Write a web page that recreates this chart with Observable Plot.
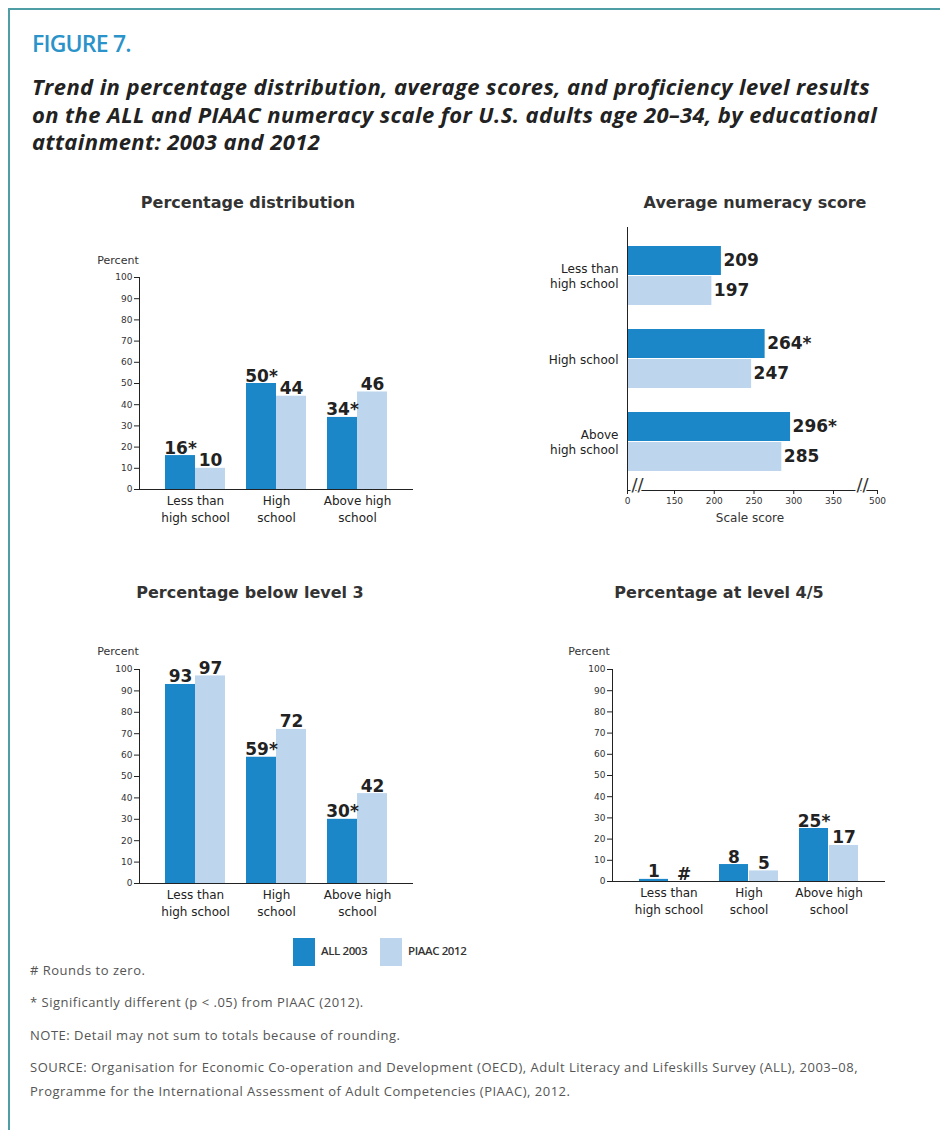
<!DOCTYPE html>
<html><head><meta charset="utf-8">
<script src="https://cdn.jsdelivr.net/npm/d3@7"></script>
<script src="https://cdn.jsdelivr.net/npm/@observablehq/plot@0.6"></script>
<style>
body{margin:0;background:#fff;}
#page{position:relative;width:940px;height:1130px;overflow:hidden;font-family:"DejaVu Sans",sans-serif;color:#222;}
#border{position:absolute;left:8px;top:8px;width:1000px;height:1200px;border-left:2px solid #4f9ea6;border-top:2px solid #4f9ea6;}
.abs{position:absolute;}
#fig{left:32px;top:27px;font-family:"Open Sans",sans-serif;font-weight:600;font-size:23px;color:#2a93c9;letter-spacing:-0.8px;}
#sub{left:32px;top:73px;font-family:"Open Sans",sans-serif;font-weight:bold;font-style:italic;font-size:22px;line-height:27.5px;color:#222;white-space:nowrap;letter-spacing:0.4px;}
.ptitle{font-weight:bold;font-size:16px;color:#333;white-space:nowrap;transform:translateX(-50%);}
.pct{font-size:11px;color:#333;white-space:nowrap;transform:translateX(-50%);}
.leg{font-family:"Open Sans",sans-serif;font-weight:600;font-size:11.5px;color:#333;letter-spacing:-0.4px;}
.sw{width:22px;height:28px;}
.fn{left:30px;font-family:"Open Sans",sans-serif;font-size:13px;color:#555;letter-spacing:0.5px;white-space:nowrap;}
</style></head>
<body><div id="page"><div id="border"></div>
<div id="fig" class="abs">FIGURE 7.</div>
<div id="sub" class="abs">Trend in percentage distribution, average scores, and proficiency level results<br>on the ALL and PIAAC numeracy scale for U.S. adults age 20–34, by educational<br>attainment: 2003 and 2012</div>
</div>
<script>
// ---- data ----
const categories = ["Less than high school", "High school", "Above high school"];
const vTickLabels = ["Less than\nhigh school", "High\nschool", "Above high\nschool"];
const hTickLabels = ["Less than\nhigh school", "High school", "Above\nhigh school"];
const seriesNames = ["ALL 2003", "PIAAC 2012"];

const distAll2003 = [16, 50, 34];
const distPiaac2012 = [10, 44, 46];
const distLabels2003 = ["16*", "50*", "34*"];
const distLabels2012 = ["10", "44", "46"];

const scoreAll2003 = [209, 264, 296];
const scorePiaac2012 = [197, 247, 285];
const scoreLabels2003 = ["209", "264*", "296*"];
const scoreLabels2012 = ["197", "247", "285"];

const below3All2003 = [93, 59, 30];
const below3Piaac2012 = [97, 72, 42];
const below3Labels2003 = ["93", "59*", "30*"];
const below3Labels2012 = ["97", "72", "42"];

const lvl45All2003 = [1, 8, 25];
const lvl45Piaac2012 = [0, 5, 17];
const lvl45Labels2003 = ["1", "8", "25*"];
const lvl45Labels2012 = ["#", "5", "17"];

const percentTicks = [0, 10, 20, 30, 40, 50, 60, 70, 80, 90, 100];
const scoreTicks = [0, 150, 200, 250, 300, 350, 500];
const scoreDomain = [0, 150, 350, 500];
const scoreBreaks = [32, 449];

const footnotes = [
  "# Rounds to zero.",
  "* Significantly different (p < .05) from PIAAC (2012).",
  "NOTE: Detail may not sum to totals because of rounding.",
  "SOURCE: Organisation for Economic Co-operation and Development (OECD), Adult Literacy and Lifeskills Survey (ALL), 2003–08,\nProgramme for the International Assessment of Adult Competencies (PIAAC), 2012."
];

// ---- styles ----
const C2003 = "#1b87c8";
const C2012 = "#bdd6ee";
const FONT = "DejaVu Sans, sans-serif";
const page = document.getElementById("page");

function place(el, left, top) {
  const w = document.createElement("div");
  w.className = "abs";
  w.style.left = left + "px"; w.style.top = top + "px";
  w.appendChild(el); page.appendChild(w); return w;
}
function addText(cls, text, left, top) {
  const d = document.createElement("div");
  d.className = "abs " + cls; d.textContent = text;
  d.style.left = left + "px"; d.style.top = top + "px";
  page.appendChild(d); return d;
}
const rows = (a, b, la, lb) => categories.map((c, i) => ({c, a: a[i], b: b[i], la: la[i], lb: lb[i]}));

function vbar(a, b, la, lb, m) {
  const data = rows(a, b, la, lb);
  return Plot.plot({
    width: 470, height: 300,
    marginTop: m.t, marginBottom: m.b, marginLeft: m.l, marginRight: m.r,
    style: {background: "transparent", fontFamily: FONT, color: "#222", overflow: "visible"},
    x: {domain: categories, paddingInner: 0.259, paddingOuter: 0.32, label: null},
    y: {domain: [0, 100], label: null},
    marks: [
      Plot.barY(data, {x: "c", y: "a", fill: C2003, insetRight: 30}),
      Plot.barY(data, {x: "c", y: "b", fill: C2012, insetLeft: 30}),
      Plot.axisY({ticks: percentTicks, tickSize: 5, tickPadding: 2, fontSize: 9, label: null, fill: "#333"}),
      Plot.axisX({tickSize: 0, tickPadding: 4, fontSize: 12, lineHeight: 1.4, label: null,
        tickFormat: d => vTickLabels[categories.indexOf(d)]}),
      Plot.frame({anchor: "left", stroke: "#222"}),
      Plot.ruleY([0], {stroke: "#222", strokeWidth: 1.2}),
      Plot.text(data, {x: "c", y: "a", text: "la", dx: -15, dy: -2, lineAnchor: "bottom", fontSize: 17, fontWeight: "bold", fill: "#222"}),
      Plot.text(data, {x: "c", y: "b", text: "lb", dx: 15, dy: -2, lineAnchor: "bottom", fontSize: 17, fontWeight: "bold", fill: "#222"})
    ]
  });
}

function hbar(a, b, la, lb, m) {
  const data = rows(a, b, la, lb);
  return Plot.plot({
    width: 470, height: 320,
    marginTop: m.t, marginBottom: m.b, marginLeft: m.l, marginRight: m.r,
    style: {background: "transparent", fontFamily: FONT, color: "#222", overflow: "visible"},
    x: {type: "linear", domain: scoreDomain, range: [157, 204, 363, 407], label: null},
    y: {domain: categories, paddingInner: 0.286, paddingOuter: 0.214, label: null},
    marks: [
      Plot.barX(data, {y: "c", x: "a", fill: C2003, insetBottom: 30}),
      Plot.barX(data, {y: "c", x: "b", fill: C2012, insetTop: 30}),
      Plot.axisY({tickSize: 0, tickPadding: 9, fontSize: 12, lineHeight: 1.25, label: null,
        tickFormat: d => hTickLabels[categories.indexOf(d)]}),
      Plot.axisX({ticks: scoreTicks, tickSize: 4, tickPadding: 3, fontSize: 9, label: null, fill: "#333"}),
      Plot.frame({anchor: "left", stroke: "#222"}),
      Plot.frame({anchor: "bottom", stroke: "#222"}),
      Plot.text(scoreBreaks, {x: d => d, frameAnchor: "bottom", text: () => "//", fontSize: 18, fill: "#333",
        stroke: "white", strokeWidth: 3, paintOrder: "stroke"}),
      Plot.text(data, {x: "a", y: "c", text: "la", dx: 2, dy: -15, textAnchor: "start", fontSize: 17, fontWeight: "bold", fill: "#222"}),
      Plot.text(data, {x: "b", y: "c", text: "lb", dx: 2, dy: 15, textAnchor: "start", fontSize: 17, fontWeight: "bold", fill: "#222"})
    ]
  });
}

// panel 1
addText("ptitle", "Percentage distribution", 248, 193);
addText("pct", "Percent", 118, 254);
place(vbar(distAll2003, distPiaac2012, distLabels2003, distLabels2012, {t: 47, b: 41, l: 139, r: 57}), 0, 230);

// panel 2
addText("ptitle", "Average numeracy score", 755, 193);
place(hbar(scoreAll2003, scorePiaac2012, scoreLabels2003, scoreLabels2012, {t: 12, b: 45, l: 157, r: 63}), 470, 215);
addText("pct", "Scale score", 750, 511).style.fontSize = "12px";

// panel 3
addText("ptitle", "Percentage below level 3", 250, 583);
addText("pct", "Percent", 118, 645);
place(vbar(below3All2003, below3Piaac2012, below3Labels2003, below3Labels2012, {t: 49, b: 37, l: 139, r: 57}), 0, 620);

// panel 4
addText("ptitle", "Percentage at level 4/5", 719, 583);
addText("pct", "Percent", 589, 645);
place(vbar(lvl45All2003, lvl45Piaac2012, lvl45Labels2003, lvl45Labels2012, {t: 49, b: 39, l: 142, r: 55}), 470, 620);

// legend
const sw1 = addText("sw", "", 293, 938); sw1.style.background = C2003;
addText("leg", seriesNames[0], 321, 943);
const sw2 = addText("sw", "", 380, 938); sw2.style.background = C2012;
addText("leg", seriesNames[1], 408, 943);

// footnotes
const fnTops = [958, 990, 1023, 1055];
footnotes.forEach((t, i) => {
  const d = addText("fn", "", 30, fnTops[i]);
  d.style.lineHeight = "24px";
  d.innerText = t;
});
</script>
</body></html>
